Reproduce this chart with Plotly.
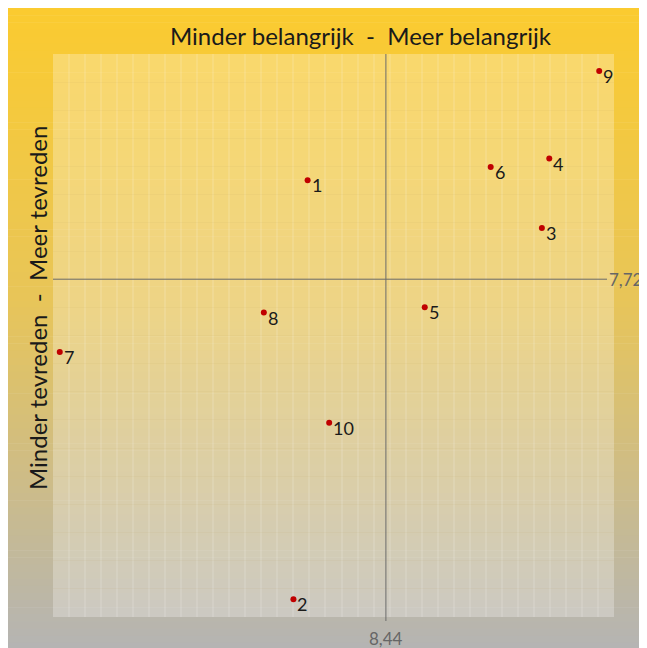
import plotly.graph_objects as go

# Data
labels = ["1", "2", "3", "4", "5", "6", "7", "8", "9", "10"]
belang = [8.313, 8.290, 8.693, 8.705, 8.503, 8.610, 7.911, 8.242, 8.786, 8.348]
tevred = [7.931, 7.038, 7.829, 7.977, 7.660, 7.959, 7.565, 7.649, 8.164, 7.414]
x_cross = 8.44
y_cross = 7.72
x_cross_label = "8,44"
y_cross_label = "7,72"
title_x = "Minder belangrijk  -  Meer belangrijk"
title_y = "Minder tevreden  -  Meer tevreden"

X_RANGE = [7.9, 8.81]
Y_RANGE = [7.0, 8.2]

OFF = 8  # page body margin
W, H = 647 - OFF, 648 - OFF
# plot area in page pixels: x 53..614, y 54..617
ML, MT = 53 - OFF, 54 - OFF
MR, MB = W - (614 - OFF), H - (617 - OFF)
PW = W - ML - MR
PH = H - MT - MB

def px_to_paper_x(px):  # page px -> paper
    return (px - OFF - ML) / PW

def py_to_paper_y(py):
    return (H - MB - (py - OFF)) / PH

FONT = "Lato"

fig = go.Figure()
fig.add_trace(go.Scatter(
    x=belang, y=tevred, mode="markers",
    marker=dict(size=6, color="#C00000"),
    hoverinfo="skip", showlegend=False,
))

shapes = []
stops = [(0.0, (251, 203, 48)), (0.45, (232, 197, 88)), (1.0, (180, 180, 180))]

def col_at(t):
    for i in range(len(stops) - 1):
        t0, c0 = stops[i]
        t1, c1 = stops[i + 1]
        if t0 <= t <= t1:
            f = (t - t0) / (t1 - t0)
            return tuple(int(round(c0[k] + (c1[k] - c0[k]) * f)) for k in range(3))
    return stops[-1][1]

top_px, bot_px = OFF, 650
n = 90
for i in range(n):
    a = top_px + (bot_px - top_px) * i / n
    b = top_px + (bot_px - top_px) * (i + 1) / n
    c = col_at((i + 0.5) / n)
    shapes.append(dict(
        type="rect", xref="paper", yref="paper", layer="below",
        x0=px_to_paper_x(OFF - 2), x1=px_to_paper_x(652),
        y0=py_to_paper_y(b + 0.6), y1=py_to_paper_y(a),
        fillcolor="rgb(%d,%d,%d)" % c, line=dict(width=0),
    ))
shapes.append(dict(
    type="rect", xref="paper", yref="paper", layer="below",
    x0=0, x1=1, y0=0, y1=1,
    fillcolor="rgba(255,255,255,0.27)", line=dict(width=0),
))
shapes.append(dict(
    type="line", xref="paper", yref="y", x0=0, x1=px_to_paper_x(607),
    y0=y_cross, y1=y_cross, line=dict(color="#6b6b6b", width=1), layer="above",
))
shapes.append(dict(
    type="line", xref="x", yref="paper", x0=x_cross, x1=x_cross,
    y0=py_to_paper_y(621), y1=1, line=dict(color="#6b6b6b", width=1), layer="above",
))

annotations = []
for lab, xv, yv in zip(labels, belang, tevred):
    annotations.append(dict(
        x=xv, y=yv, xref="x", yref="y", text=lab, showarrow=False,
        xanchor="left", yanchor="middle", xshift=2, yshift=-5,
        font=dict(family=FONT, size=18, color="#1a1a1a"),
    ))
annotations.append(dict(
    x=px_to_paper_x(361), y=py_to_paper_y(35), xref="paper", yref="paper",
    text=title_x, showarrow=False, xanchor="center", yanchor="middle",
    font=dict(family=FONT, size=24, color="#1a1a1a"),
))
annotations.append(dict(
    x=px_to_paper_x(37), y=py_to_paper_y(308), xref="paper", yref="paper",
    text=title_y, showarrow=False, xanchor="center", yanchor="middle", textangle=-90,
    font=dict(family=FONT, size=24, color="#1a1a1a"),
))
annotations.append(dict(
    x=x_cross, y=py_to_paper_y(638), xref="x", yref="paper",
    text=x_cross_label, showarrow=False, xanchor="center", yanchor="middle",
    font=dict(family=FONT, size=17, color="#666666"),
))
annotations.append(dict(
    x=px_to_paper_x(607), y=y_cross, xref="paper", yref="y",
    text=y_cross_label, showarrow=False, xanchor="left", yanchor="middle",
    font=dict(family=FONT, size=17, color="#666666"),
))

fig.update_layout(
    width=W, height=H,
    margin=dict(l=ML, r=MR, t=MT, b=MB, pad=0),
    paper_bgcolor="white", plot_bgcolor="rgba(0,0,0,0)",
    shapes=shapes, annotations=annotations,
    xaxis=dict(range=X_RANGE, showticklabels=False, ticks="", zeroline=False,
               showline=False, showgrid=True, dtick=0.026, tick0=7.9,
               gridcolor="rgba(255,255,255,0.12)", gridwidth=2),
    yaxis=dict(range=Y_RANGE, showticklabels=False, ticks="", zeroline=False,
               showline=False, showgrid=True, dtick=0.06, tick0=7.0,
               gridcolor="rgba(190,160,80,0.07)", gridwidth=1),
    showlegend=False,
)

fig.write_html("out.html")
